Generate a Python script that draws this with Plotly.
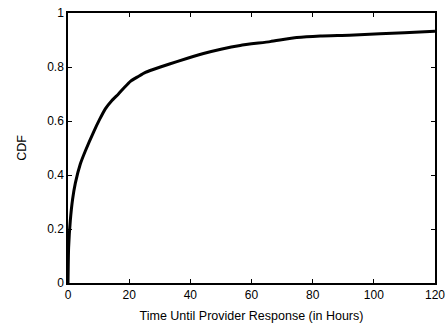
import plotly.graph_objects as go

hours = [0, 0.2, 0.75, 1.5, 2.4, 4, 5.7, 8.4, 10.3, 12.2, 14.3, 16.5, 18.5, 20.4, 23, 25.3, 30.2, 35.6, 44.3, 50, 56.3, 66.1, 74.8, 82.5, 92, 102, 110, 120]
cdf = [0.0, 0.13, 0.23, 0.31, 0.37, 0.44, 0.49, 0.56, 0.605, 0.645, 0.675, 0.70, 0.725, 0.747, 0.765, 0.78, 0.80, 0.82, 0.85, 0.866, 0.88, 0.894, 0.909, 0.915, 0.918, 0.923, 0.927, 0.932]

x_ticks = [0, 20, 40, 60, 80, 100, 120]
y_ticks = [0, 0.2, 0.4, 0.6, 0.8, 1]

fig = go.Figure()
fig.add_trace(go.Scatter(x=hours, y=cdf, mode="lines",
                         line=dict(color="black", width=3, shape="spline", smoothing=0.5),
                         showlegend=False))

font = dict(family="Liberation Sans, Arial, sans-serif", size=12, color="black")
title_font = dict(family="Liberation Sans, Arial, sans-serif", size=12.5, color="#000000")
axis_common = dict(showgrid=False, zeroline=False, showline=True, linecolor="black", linewidth=1.5,
                   mirror="ticks", ticks="inside", ticklen=4, tickwidth=1, tickcolor="black",
                   tickfont=font, automargin=False)
fig.update_layout(
    width=446, height=323,
    margin=dict(l=68, r=11, t=13, b=40, autoexpand=False),
    paper_bgcolor="white", plot_bgcolor="white",
    font=font,
    xaxis=dict(range=[0, 120], tickvals=x_ticks, ticktext=[str(v) for v in x_ticks],
               title=dict(text="Time Until Provider Response (in Hours)", font=title_font, standoff=10),
               **axis_common),
    yaxis=dict(range=[0, 1], tickvals=y_ticks, ticktext=["0", "0.2", "0.4", "0.6", "0.8", "1"],
               title=dict(text="CDF", font=title_font, standoff=18),
               **axis_common),
)
fig.write_html("out.html")
